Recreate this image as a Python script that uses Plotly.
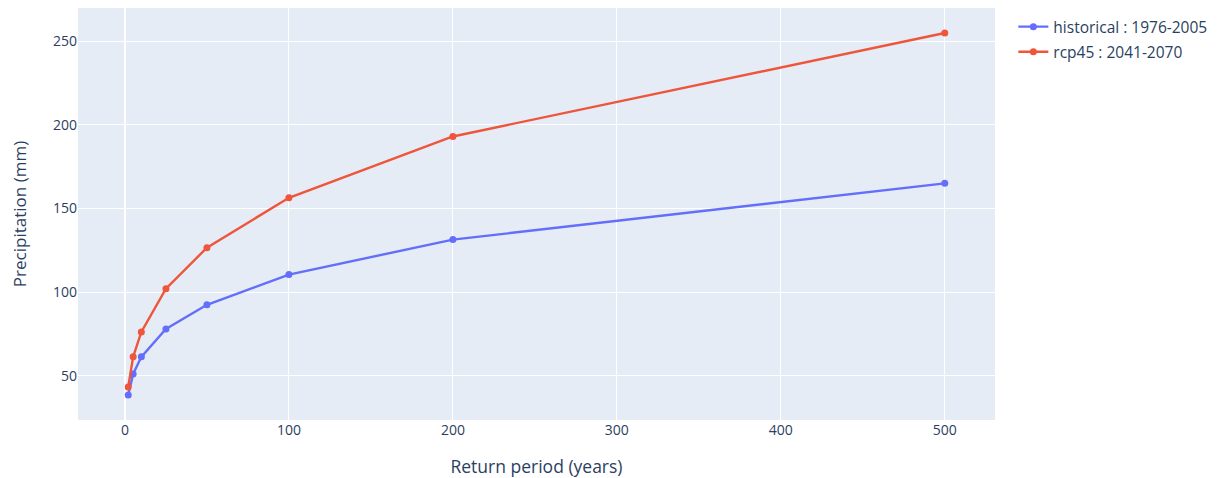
import plotly.graph_objects as go

return_periods = [2, 5, 10, 25, 50, 100, 200, 500]
historical = [38.6, 51.2, 61.4, 78.0, 92.5, 110.5, 131.4, 165.0]
rcp45 = [43.4, 61.4, 76.3, 102.1, 126.6, 156.4, 193.0, 254.8]

fig = go.Figure()
fig.add_trace(go.Scatter(x=return_periods, y=historical, mode="lines+markers",
                         name="historical : 1976-2005", legendgroup="a",
                         line=dict(color="#636efa", width=2.4), marker=dict(size=7)))
fig.add_trace(go.Scatter(x=return_periods, y=rcp45, mode="lines+markers",
                         name="rcp45 : 2041-2070", legendgroup="b",
                         line=dict(color="#EF553B", width=2.4), marker=dict(size=7)))
fig.update_layout(
    width=1226, height=478,
    font=dict(size=14),
    margin=dict(l=70, r=239, t=0, b=66),
    legend=dict(font=dict(size=15.5), tracegroupgap=2, y=0.995),
    xaxis=dict(title=dict(text="Return period (years)", font=dict(size=17.5), standoff=22),
               automargin=False),
    yaxis=dict(title=dict(text="Precipitation (mm)", font=dict(size=17), standoff=22),
               automargin=False),
)
fig.write_html("out.html")
